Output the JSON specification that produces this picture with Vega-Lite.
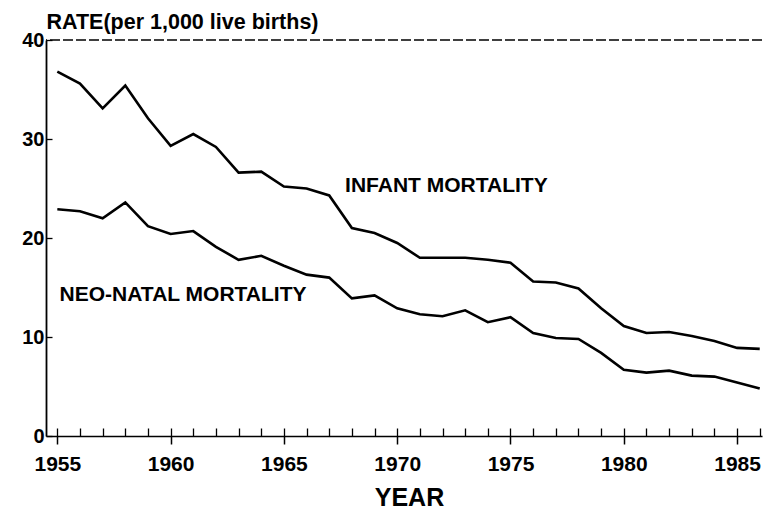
{
  "$schema": "https://vega.github.io/schema/vega-lite/v6.json",
  "autosize": "none",
  "width": 716,
  "height": 396,
  "padding": {"left": 46, "top": 40, "right": 1, "bottom": 76},
  "background": "white",
  "config": {
    "view": {"stroke": null},
    "axis": {
      "labelFont": "Liberation Sans", "labelFontWeight": "bold", "labelFontSize": 21, "labelColor": "black",
      "titleFont": "Liberation Sans", "titleFontWeight": "bold", "titleColor": "black",
      "domainColor": "black", "tickColor": "black", "grid": false
    }
  },
  "datasets": {
    "rates": [
      {"year": 1955, "series": "infant", "rate": 36.8}, {"year": 1955, "series": "neonatal", "rate": 22.9},
      {"year": 1956, "series": "infant", "rate": 35.6}, {"year": 1956, "series": "neonatal", "rate": 22.7},
      {"year": 1957, "series": "infant", "rate": 33.1}, {"year": 1957, "series": "neonatal", "rate": 22.0},
      {"year": 1958, "series": "infant", "rate": 35.4}, {"year": 1958, "series": "neonatal", "rate": 23.6},
      {"year": 1959, "series": "infant", "rate": 32.1}, {"year": 1959, "series": "neonatal", "rate": 21.2},
      {"year": 1960, "series": "infant", "rate": 29.3}, {"year": 1960, "series": "neonatal", "rate": 20.4},
      {"year": 1961, "series": "infant", "rate": 30.5}, {"year": 1961, "series": "neonatal", "rate": 20.7},
      {"year": 1962, "series": "infant", "rate": 29.2}, {"year": 1962, "series": "neonatal", "rate": 19.1},
      {"year": 1963, "series": "infant", "rate": 26.6}, {"year": 1963, "series": "neonatal", "rate": 17.8},
      {"year": 1964, "series": "infant", "rate": 26.7}, {"year": 1964, "series": "neonatal", "rate": 18.2},
      {"year": 1965, "series": "infant", "rate": 25.2}, {"year": 1965, "series": "neonatal", "rate": 17.2},
      {"year": 1966, "series": "infant", "rate": 25.0}, {"year": 1966, "series": "neonatal", "rate": 16.3},
      {"year": 1967, "series": "infant", "rate": 24.3}, {"year": 1967, "series": "neonatal", "rate": 16.0},
      {"year": 1968, "series": "infant", "rate": 21.0}, {"year": 1968, "series": "neonatal", "rate": 13.9},
      {"year": 1969, "series": "infant", "rate": 20.5}, {"year": 1969, "series": "neonatal", "rate": 14.2},
      {"year": 1970, "series": "infant", "rate": 19.5}, {"year": 1970, "series": "neonatal", "rate": 12.9},
      {"year": 1971, "series": "infant", "rate": 18.0}, {"year": 1971, "series": "neonatal", "rate": 12.3},
      {"year": 1972, "series": "infant", "rate": 18.0}, {"year": 1972, "series": "neonatal", "rate": 12.1},
      {"year": 1973, "series": "infant", "rate": 18.0}, {"year": 1973, "series": "neonatal", "rate": 12.7},
      {"year": 1974, "series": "infant", "rate": 17.8}, {"year": 1974, "series": "neonatal", "rate": 11.5},
      {"year": 1975, "series": "infant", "rate": 17.5}, {"year": 1975, "series": "neonatal", "rate": 12.0},
      {"year": 1976, "series": "infant", "rate": 15.6}, {"year": 1976, "series": "neonatal", "rate": 10.4},
      {"year": 1977, "series": "infant", "rate": 15.5}, {"year": 1977, "series": "neonatal", "rate": 9.9},
      {"year": 1978, "series": "infant", "rate": 14.9}, {"year": 1978, "series": "neonatal", "rate": 9.8},
      {"year": 1979, "series": "infant", "rate": 12.9}, {"year": 1979, "series": "neonatal", "rate": 8.4},
      {"year": 1980, "series": "infant", "rate": 11.1}, {"year": 1980, "series": "neonatal", "rate": 6.7},
      {"year": 1981, "series": "infant", "rate": 10.4}, {"year": 1981, "series": "neonatal", "rate": 6.4},
      {"year": 1982, "series": "infant", "rate": 10.5}, {"year": 1982, "series": "neonatal", "rate": 6.6},
      {"year": 1983, "series": "infant", "rate": 10.1}, {"year": 1983, "series": "neonatal", "rate": 6.1},
      {"year": 1984, "series": "infant", "rate": 9.6}, {"year": 1984, "series": "neonatal", "rate": 6.0},
      {"year": 1985, "series": "infant", "rate": 8.9}, {"year": 1985, "series": "neonatal", "rate": 5.4},
      {"year": 1986, "series": "infant", "rate": 8.8}, {"year": 1986, "series": "neonatal", "rate": 4.8}
    ],
    "labels": [
      {"year": 1967.7, "rate": 25.3, "text": "INFANT MORTALITY"},
      {"year": 1955.1, "rate": 14.2, "text": "NEO-NATAL MORTALITY"}
    ]
  },
  "resolve": {"axis": {"x": "independent"}},
  "layer": [
    {
      "data": {"name": "rates"},
      "mark": {"type": "line", "color": "black", "strokeWidth": 2.6},
      "encoding": {
        "x": {"field": "year", "type": "quantitative",
          "scale": {"domain": [1954.5, 1986.1], "nice": false, "zero": false},
          "axis": {"orient": "bottom", "values": [1955, 1960, 1965, 1970, 1975, 1980, 1985], "format": "d",
            "tickSize": 8, "tickWidth": 1.5, "domainWidth": 1.5, "labelPadding": 9,
            "title": "YEAR", "titleFontSize": 25, "titleBaseline": "alphabetic", "titleX": 363, "titleY": 69}},
        "y": {"field": "rate", "type": "quantitative",
          "scale": {"domain": [0, 40], "nice": false},
          "axis": {"values": [0, 10, 20, 30, 40], "tickSize": -6, "tickWidth": 1.3, "domainWidth": 1.8, "labelPadding": 8, "labelFontSize": 20,
            "title": "RATE(per 1,000 live births)", "titleAngle": 0, "titleAlign": "left", "titleBaseline": "alphabetic",
            "titleX": 0, "titleY": -12, "titleFontSize": 21.5}},
        "detail": {"field": "series", "type": "nominal"}
      }
    },
    {
      "data": {"name": "labels"},
      "mark": {"type": "text", "align": "left", "baseline": "middle", "font": "Liberation Sans", "fontWeight": "bold", "fontSize": 21, "color": "black"},
      "encoding": {
        "x": {"field": "year", "type": "quantitative",
          "axis": {"orient": "bottom", "values": [1955,1956,1957,1958,1959,1960,1961,1962,1963,1964,1965,1966,1967,1968,1969,1970,1971,1972,1973,1974,1975,1976,1977,1978,1979,1980,1981,1982,1983,1984,1985,1986],
            "labels": false, "tickSize": -8, "tickWidth": 1.3, "domain": false, "title": null}},
        "y": {"field": "rate", "type": "quantitative"},
        "text": {"field": "text"}
      }
    },
    {
      "data": {"values": [{"rate": 40}]},
      "mark": {"type": "rule", "color": "black", "strokeWidth": 1.3, "strokeDash": [10, 3]},
      "encoding": {"y": {"field": "rate", "type": "quantitative"}}
    }
  ]
}
